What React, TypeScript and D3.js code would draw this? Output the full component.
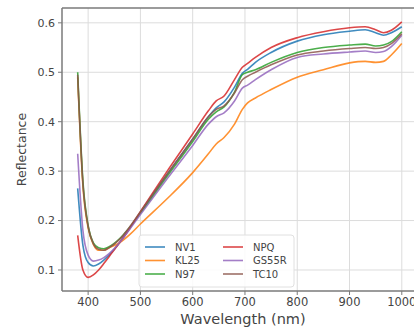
import React from "react";
import * as d3 from "d3";

// wavelengths (nm) sampled off the figure
const wavelengths = [380, 390, 400, 410, 420, 430, 440, 460, 480, 500, 550, 600, 630, 645, 660, 680, 695, 705, 720, 750, 800, 850, 900, 930, 950, 965, 980, 1000];

const nv1 = [0.265, 0.15, 0.115, 0.108, 0.112, 0.12, 0.13, 0.155, 0.185, 0.216, 0.292, 0.365, 0.41, 0.428, 0.44, 0.47, 0.498, 0.506, 0.52, 0.54, 0.563, 0.576, 0.583, 0.586, 0.58, 0.575, 0.58, 0.592];
const kl25 = [0.49, 0.27, 0.185, 0.152, 0.14, 0.14, 0.145, 0.155, 0.172, 0.193, 0.243, 0.297, 0.335, 0.355, 0.368, 0.395, 0.425, 0.438, 0.448, 0.465, 0.49, 0.505, 0.519, 0.522, 0.52, 0.522, 0.535, 0.558];
const n97 = [0.5, 0.28, 0.19, 0.155, 0.145, 0.143, 0.147, 0.163, 0.187, 0.215, 0.288, 0.36, 0.405, 0.42, 0.43, 0.46, 0.495, 0.5, 0.505, 0.52, 0.54, 0.55, 0.555, 0.557, 0.553, 0.555, 0.562, 0.582];
const npq = [0.17, 0.1, 0.085, 0.09, 0.1, 0.113, 0.127, 0.155, 0.185, 0.218, 0.298, 0.375, 0.422, 0.442, 0.452, 0.485, 0.51, 0.518, 0.53, 0.55, 0.57, 0.582, 0.59, 0.592, 0.586, 0.58, 0.585, 0.602];
const gs55r = [0.335, 0.18, 0.13, 0.118, 0.12, 0.125, 0.133, 0.155, 0.183, 0.212, 0.283, 0.352, 0.395, 0.41, 0.418, 0.442, 0.468, 0.474, 0.485, 0.505, 0.53, 0.537, 0.541, 0.543, 0.54, 0.542, 0.552, 0.575];
const tc10 = [0.495, 0.275, 0.188, 0.153, 0.142, 0.14, 0.145, 0.162, 0.188, 0.218, 0.292, 0.365, 0.41, 0.425, 0.432, 0.458, 0.485, 0.492, 0.5, 0.515, 0.535, 0.543, 0.548, 0.55, 0.548, 0.55, 0.558, 0.578];

const seriesNames = ["NV1", "KL25", "N97", "NPQ", "GS55R", "TC10"];
const seriesValues = [nv1, kl25, n97, npq, gs55r, tc10];
const colors = ["#1f77b4", "#ff7f0e", "#2ca02c", "#d62728", "#9467bd", "#8c564b"];

const xTicks = [400, 500, 600, 700, 800, 900, 1000];
const yTicks = [0.1, 0.2, 0.3, 0.4, 0.5, 0.6];

const W = 414,
  H = 329;
const margin = { top: 8, right: -4, bottom: 38, left: 62 };

export default function App() {
  const x = d3
    .scaleLinear()
    .domain([350, 1031])
    .range([margin.left, W - margin.right]);
  const y = d3
    .scaleLinear()
    .domain([0.0575, 0.63])
    .range([H - margin.bottom, margin.top]);

  const line = d3
    .line<number>()
    .x((d, i) => x(wavelengths[i]))
    .y(d => y(d))
    .curve(d3.curveMonotoneX);

  const font = "DejaVu Sans, sans-serif";
  const bottom = H - margin.bottom;

  return (
    <div style={{ position: "absolute", left: 0, top: 0 }}>
      <svg width={W} height={H} style={{ display: "block", background: "#fff" }} fontFamily={font}>
        {/* grid */}
        {xTicks.map(t => (
          <line key={"gx" + t} x1={x(t)} x2={x(t)} y1={margin.top} y2={bottom} stroke="#dcdcdc" strokeWidth={1} />
        ))}
        {yTicks.map(t => (
          <line key={"gy" + t} x1={margin.left} x2={W} y1={y(t)} y2={y(t)} stroke="#dcdcdc" strokeWidth={1} />
        ))}

        {/* series */}
        {seriesValues.map((vals, i) => (
          <path key={seriesNames[i]} d={line(vals) || ""} fill="none" stroke={colors[i]} strokeWidth={1.6} strokeOpacity={0.85} />
        ))}

        {/* frame */}
        <line x1={margin.left} x2={margin.left} y1={margin.top} y2={bottom} stroke="#7a7a7a" strokeWidth={1.5} />
        <line x1={margin.left} x2={W} y1={margin.top} y2={margin.top} stroke="#7a7a7a" strokeWidth={1.5} />
        <line x1={margin.left} x2={W} y1={bottom} y2={bottom} stroke="#7a7a7a" strokeWidth={1.5} />

        {/* y axis */}
        {yTicks.map(t => (
          <g key={"ty" + t}>
            <line x1={margin.left - 4} x2={margin.left} y1={y(t)} y2={y(t)} stroke="#7a7a7a" />
            <text x={margin.left - 7} y={y(t)} dy="0.35em" textAnchor="end" fontSize={11} fill="#444">
              {t.toFixed(1)}
            </text>
          </g>
        ))}
        {/* x axis */}
        {xTicks.map(t => (
          <g key={"tx" + t}>
            <line x1={x(t)} x2={x(t)} y1={bottom} y2={bottom + 4} stroke="#7a7a7a" />
            <text x={x(t)} y={bottom + 11} dy="0.35em" textAnchor="middle" fontSize={11.5} fill="#444">
              {t}
            </text>
          </g>
        ))}

        <text x={243} y={319} dy="0.35em" textAnchor="middle" fontSize={14.5} fill="#444">
          Wavelength (nm)
        </text>
        <text transform={`translate(22,${(margin.top + bottom) / 2}) rotate(-90)`} dy="0.35em" textAnchor="middle" fontSize={12.5} fill="#444">
          Reflectance
        </text>

        {/* legend */}
        <rect x={139} y={235} width={155} height={52} rx={3} fill="#fff" fillOpacity={0.85} stroke="#e0e0e0" />
        {seriesNames.map((name, i) => {
          const col = Math.floor(i / 3);
          const row = i % 3;
          const lx = 145 + col * 78;
          const ly = 247 + row * 13.5;
          return (
            <g key={"lg" + name}>
              <line x1={lx} x2={lx + 20} y1={ly} y2={ly} stroke={colors[i]} strokeWidth={1.6} strokeOpacity={0.85} />
              <text x={lx + 30} y={ly} dy="0.35em" fontSize={10} fill="#444">
                {name}
              </text>
            </g>
          );
        })}
      </svg>
    </div>
  );
}
